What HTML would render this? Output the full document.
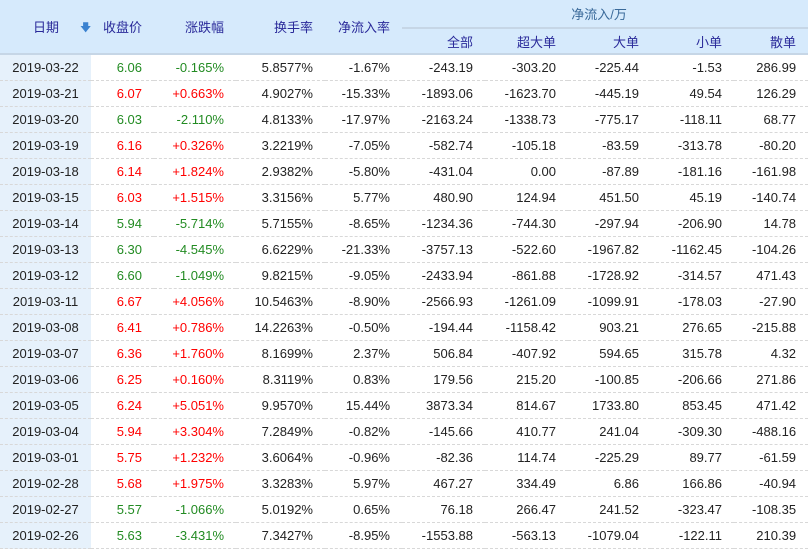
<!DOCTYPE html>
<html><head><meta charset="utf-8"><style>
html,body{margin:0;padding:0;background:#fff;width:811px;height:551px;overflow:hidden}
table{border-collapse:collapse;table-layout:fixed;width:808px;font-family:"Liberation Sans","Noto Sans CJK SC",sans-serif;font-size:13px;color:#222}
th{background:#d6eafc;color:#2a2a9a;font-weight:normal;text-align:right;padding:0 12px 0 0;height:30px}
th.g{text-align:center;color:#3a6a9a;border-bottom:2px solid #c6d6e6;height:27px}
tr.h2 th{border-bottom:2px solid #c6d6e6;height:24px}
th.rs{border-bottom:2px solid #c6d6e6}
td{height:25px;border-bottom:1px dashed #d8d8d8;text-align:right;padding:0 12px 0 0;white-space:nowrap}
td.d{background:#e6f1fb;text-align:center;padding:0}
.r{color:#f00}.gr{color:#228b22}
</style></head><body>
<table>
<colgroup><col style="width:91px"><col style="width:63px"><col style="width:82px"><col style="width:89px"><col style="width:77px"><col style="width:83px"><col style="width:83px"><col style="width:83px"><col style="width:83px"><col style="width:74px"></colgroup>
<tr><th rowspan="2" class="rs" style="text-align:left;padding-left:33px;position:relative">日期<span style="position:absolute;left:80px;top:19px;color:#3b82d0;font-size:11px">&#129095;</span></th><th rowspan="2" class="rs">收盘价</th><th rowspan="2" class="rs">涨跌幅</th><th rowspan="2" class="rs">换手率</th><th rowspan="2" class="rs">净流入率</th><th colspan="5" class="g">净流入/万</th></tr>
<tr class="h2"><th>全部</th><th>超大单</th><th>大单</th><th>小单</th><th>散单</th></tr>
<tr><td class="d">2019-03-22</td><td class="gr">6.06</td><td class="gr">-0.165%</td><td>5.8577%</td><td>-1.67%</td><td>-243.19</td><td>-303.20</td><td>-225.44</td><td>-1.53</td><td>286.99</td></tr>
<tr><td class="d">2019-03-21</td><td class="r">6.07</td><td class="r">+0.663%</td><td>4.9027%</td><td>-15.33%</td><td>-1893.06</td><td>-1623.70</td><td>-445.19</td><td>49.54</td><td>126.29</td></tr>
<tr><td class="d">2019-03-20</td><td class="gr">6.03</td><td class="gr">-2.110%</td><td>4.8133%</td><td>-17.97%</td><td>-2163.24</td><td>-1338.73</td><td>-775.17</td><td>-118.11</td><td>68.77</td></tr>
<tr><td class="d">2019-03-19</td><td class="r">6.16</td><td class="r">+0.326%</td><td>3.2219%</td><td>-7.05%</td><td>-582.74</td><td>-105.18</td><td>-83.59</td><td>-313.78</td><td>-80.20</td></tr>
<tr><td class="d">2019-03-18</td><td class="r">6.14</td><td class="r">+1.824%</td><td>2.9382%</td><td>-5.80%</td><td>-431.04</td><td>0.00</td><td>-87.89</td><td>-181.16</td><td>-161.98</td></tr>
<tr><td class="d">2019-03-15</td><td class="r">6.03</td><td class="r">+1.515%</td><td>3.3156%</td><td>5.77%</td><td>480.90</td><td>124.94</td><td>451.50</td><td>45.19</td><td>-140.74</td></tr>
<tr><td class="d">2019-03-14</td><td class="gr">5.94</td><td class="gr">-5.714%</td><td>5.7155%</td><td>-8.65%</td><td>-1234.36</td><td>-744.30</td><td>-297.94</td><td>-206.90</td><td>14.78</td></tr>
<tr><td class="d">2019-03-13</td><td class="gr">6.30</td><td class="gr">-4.545%</td><td>6.6229%</td><td>-21.33%</td><td>-3757.13</td><td>-522.60</td><td>-1967.82</td><td>-1162.45</td><td>-104.26</td></tr>
<tr><td class="d">2019-03-12</td><td class="gr">6.60</td><td class="gr">-1.049%</td><td>9.8215%</td><td>-9.05%</td><td>-2433.94</td><td>-861.88</td><td>-1728.92</td><td>-314.57</td><td>471.43</td></tr>
<tr><td class="d">2019-03-11</td><td class="r">6.67</td><td class="r">+4.056%</td><td>10.5463%</td><td>-8.90%</td><td>-2566.93</td><td>-1261.09</td><td>-1099.91</td><td>-178.03</td><td>-27.90</td></tr>
<tr><td class="d">2019-03-08</td><td class="r">6.41</td><td class="r">+0.786%</td><td>14.2263%</td><td>-0.50%</td><td>-194.44</td><td>-1158.42</td><td>903.21</td><td>276.65</td><td>-215.88</td></tr>
<tr><td class="d">2019-03-07</td><td class="r">6.36</td><td class="r">+1.760%</td><td>8.1699%</td><td>2.37%</td><td>506.84</td><td>-407.92</td><td>594.65</td><td>315.78</td><td>4.32</td></tr>
<tr><td class="d">2019-03-06</td><td class="r">6.25</td><td class="r">+0.160%</td><td>8.3119%</td><td>0.83%</td><td>179.56</td><td>215.20</td><td>-100.85</td><td>-206.66</td><td>271.86</td></tr>
<tr><td class="d">2019-03-05</td><td class="r">6.24</td><td class="r">+5.051%</td><td>9.9570%</td><td>15.44%</td><td>3873.34</td><td>814.67</td><td>1733.80</td><td>853.45</td><td>471.42</td></tr>
<tr><td class="d">2019-03-04</td><td class="r">5.94</td><td class="r">+3.304%</td><td>7.2849%</td><td>-0.82%</td><td>-145.66</td><td>410.77</td><td>241.04</td><td>-309.30</td><td>-488.16</td></tr>
<tr><td class="d">2019-03-01</td><td class="r">5.75</td><td class="r">+1.232%</td><td>3.6064%</td><td>-0.96%</td><td>-82.36</td><td>114.74</td><td>-225.29</td><td>89.77</td><td>-61.59</td></tr>
<tr><td class="d">2019-02-28</td><td class="r">5.68</td><td class="r">+1.975%</td><td>3.3283%</td><td>5.97%</td><td>467.27</td><td>334.49</td><td>6.86</td><td>166.86</td><td>-40.94</td></tr>
<tr><td class="d">2019-02-27</td><td class="gr">5.57</td><td class="gr">-1.066%</td><td>5.0192%</td><td>0.65%</td><td>76.18</td><td>266.47</td><td>241.52</td><td>-323.47</td><td>-108.35</td></tr>
<tr><td class="d">2019-02-26</td><td class="gr">5.63</td><td class="gr">-3.431%</td><td>7.3427%</td><td>-8.95%</td><td>-1553.88</td><td>-563.13</td><td>-1079.04</td><td>-122.11</td><td>210.39</td></tr>
</table>
</body></html>
